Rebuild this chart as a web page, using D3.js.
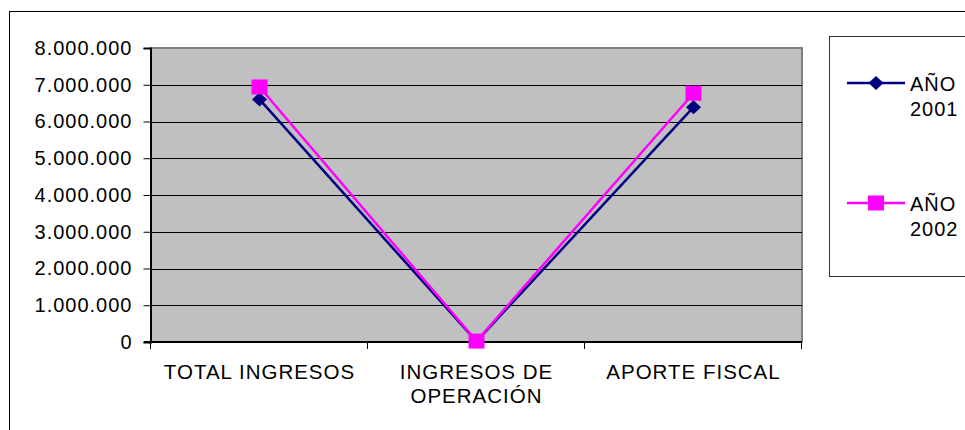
<!doctype html>
<html>
<head>
	<meta charset="utf-8">
	<title></title>
	<style>
		body { margin: 0; background: #fff; }
		svg text { font-family: "Liberation Sans", Arial, sans-serif; fill: #000; }
		.tick-label { font-size: 20px; letter-spacing: 1px; }
		.cat-label { font-size: 20.5px; letter-spacing: 1px; }
		.legend-text { font-size: 20px; letter-spacing: 1px; }
	</style>
</head>
<body>

	<svg width="965" height="430"></svg>

	<script src="https://d3js.org/d3.v7.min.js"></script>
	<script>

		// chart data
		const categories = [ "TOTAL INGRESOS", "INGRESOS DE\nOPERACIÓN", "APORTE FISCAL" ];
		const values2001 = [ 6600000, 15000, 6390000 ];
		const values2002 = [ 6940000, 25000, 6770000 ];
		const seriesNames = [ "AÑO\n2001", "AÑO\n2002" ];
		const yTicks = [ 0, 1000000, 2000000, 3000000, 4000000, 5000000, 6000000, 7000000, 8000000 ];

		const svg = d3.select( "svg" );

		const plot = { left: 151, right: 802, top: 48, bottom: 342 };

		const x = d3.scaleBand()
				.domain( categories )
				.range( [ plot.left, plot.right ] );

		const y = d3.scaleLinear()
				.domain( [ 0, 8000000 ] )
				.range( [ plot.bottom, plot.top ] );

		const locale = d3.formatLocale( { decimal: ",", thousands: ".", grouping: [ 3 ], currency: [ "", "" ] } );
		const fmt = locale.format( ",d" );

		// outer chart border
		svg.append( "rect" )
			.attr( "x", 9.5 ).attr( "y", 11.5 )
			.attr( "width", 1000 ).attr( "height", 500 )
			.attr( "fill", "none" )
			.attr( "stroke", "#000" )
			.attr( "stroke-width", 1 );

		// plot area
		svg.append( "rect" )
			.attr( "x", plot.left ).attr( "y", plot.top )
			.attr( "width", plot.right - plot.left )
			.attr( "height", plot.bottom - plot.top )
			.attr( "fill", "#c0c0c0" )
			.attr( "stroke", "#808080" )
			.attr( "stroke-width", 2 );

		// gridlines
		svg.append( "g" )
			.selectAll( "line" )
			.data( yTicks.filter( d => d > 0 && d < 8000000 ) )
			.enter().append( "line" )
				.attr( "x1", plot.left ).attr( "x2", plot.right )
				.attr( "y1", d => Math.round( y( d ) ) + 0.5 )
				.attr( "y2", d => Math.round( y( d ) ) + 0.5 )
				.attr( "stroke", "#000" )
				.attr( "stroke-width", 1 );

		// y axis
		const yAxis = svg.append( "g" )
			.attr( "transform", "translate(" + ( plot.left - 0.5 ) + ",0)" )
			.call( d3.axisLeft( y ).tickValues( yTicks ).tickFormat( fmt ).tickSize( 7 ).tickPadding( 11 ) );
		yAxis.select( ".domain" ).attr( "stroke-width", 2 );
		yAxis.selectAll( "text" )
			.attr( "class", "tick-label" )
			.attr( "font-family", null ).attr( "font-size", null );

		// x axis line + boundary ticks
		svg.append( "line" )
			.attr( "x1", plot.left - 7 ).attr( "x2", plot.right )
			.attr( "y1", plot.bottom ).attr( "y2", plot.bottom )
			.attr( "stroke", "#000" ).attr( "stroke-width", 2 );

		const bounds = categories.map( c => x( c ) ).concat( [ x.range()[ 1 ] ] );
		svg.append( "g" )
			.selectAll( "line" )
			.data( bounds )
			.enter().append( "line" )
				.attr( "x1", d => Math.round( d ) - 0.5 ).attr( "x2", d => Math.round( d ) - 0.5 )
				.attr( "y1", plot.bottom ).attr( "y2", plot.bottom + 7 )
				.attr( "stroke", "#000" ).attr( "stroke-width", 1 );

		// category labels
		const catLabels = svg.append( "g" )
			.selectAll( "text" )
			.data( categories )
			.enter().append( "text" )
				.attr( "class", "cat-label" )
				.attr( "text-anchor", "middle" )
				.attr( "x", d => x( d ) + x.bandwidth() / 2 )
				.attr( "y", plot.bottom + 37 );

		catLabels.selectAll( "tspan" )
			.data( d => d.split( "\n" ) )
			.enter().append( "tspan" )
				.attr( "x", function() { return d3.select( this.parentNode ).attr( "x" ); } )
				.attr( "dy", ( d, i ) => i === 0 ? 0 : 24 )
				.text( d => d );

		const cx = c => x( c ) + x.bandwidth() / 2;

		const line = d3.line()
			.x( d => cx( d.cat ) )
			.y( d => y( d.val ) );

		const series = [
			{ name: seriesNames[ 0 ], values: values2001, color: "#000080", marker: "diamond" },
			{ name: seriesNames[ 1 ], values: values2002, color: "#ff00ff", marker: "square" }
		];

		function drawMarker( g, type, color ) {
			if ( type === "diamond" ) {
				g.append( "path" )
					.attr( "d", "M0,-7L7.5,0L0,7L-7.5,0Z" )
					.attr( "fill", color );
			} else {
				g.append( "rect" )
					.attr( "x", -8 ).attr( "y", -7.5 )
					.attr( "width", 16 ).attr( "height", 15 )
					.attr( "fill", color );
			}
		}

		series.forEach( s => {
			const pts = categories.map( ( c, i ) => ( { cat: c, val: s.values[ i ] } ) );

			svg.append( "path" )
				.datum( pts )
				.attr( "d", line )
				.attr( "fill", "none" )
				.attr( "stroke", s.color )
				.attr( "stroke-width", 2.5 );

			pts.forEach( p => {
				const m = svg.append( "g" )
					.attr( "transform", "translate(" + cx( p.cat ) + "," + y( p.val ) + ")" );
				drawMarker( m, s.marker, s.color );
			});
		});

		// legend
		const legend = svg.append( "g" );
		legend.append( "rect" )
			.attr( "x", 829.5 ).attr( "y", 36.5 )
			.attr( "width", 200 ).attr( "height", 240 )
			.attr( "fill", "#fff" )
			.attr( "stroke", "#333" )
			.attr( "stroke-width", 1 );

		const legendRows = [ 83, 203 ];
		series.forEach( ( s, i ) => {
			const row = legend.append( "g" )
				.attr( "transform", "translate(0," + legendRows[ i ] + ")" );

			row.append( "line" )
				.attr( "x1", 847 ).attr( "x2", 905 )
				.attr( "y1", 0 ).attr( "y2", 0 )
				.attr( "stroke", s.color )
				.attr( "stroke-width", 2.5 );

			const m = row.append( "g" ).attr( "transform", "translate(876,0)" );
			drawMarker( m, s.marker, s.color );

			const t = row.append( "text" )
				.attr( "class", "legend-text" )
				.attr( "x", 910 )
				.attr( "y", 8 );
			t.selectAll( "tspan" )
				.data( s.name.split( "\n" ) )
				.enter().append( "tspan" )
					.attr( "x", 910 )
					.attr( "dy", ( d, j ) => j === 0 ? 0 : 25 )
					.text( d => d );
		});

	</script>

</body>
</html>
